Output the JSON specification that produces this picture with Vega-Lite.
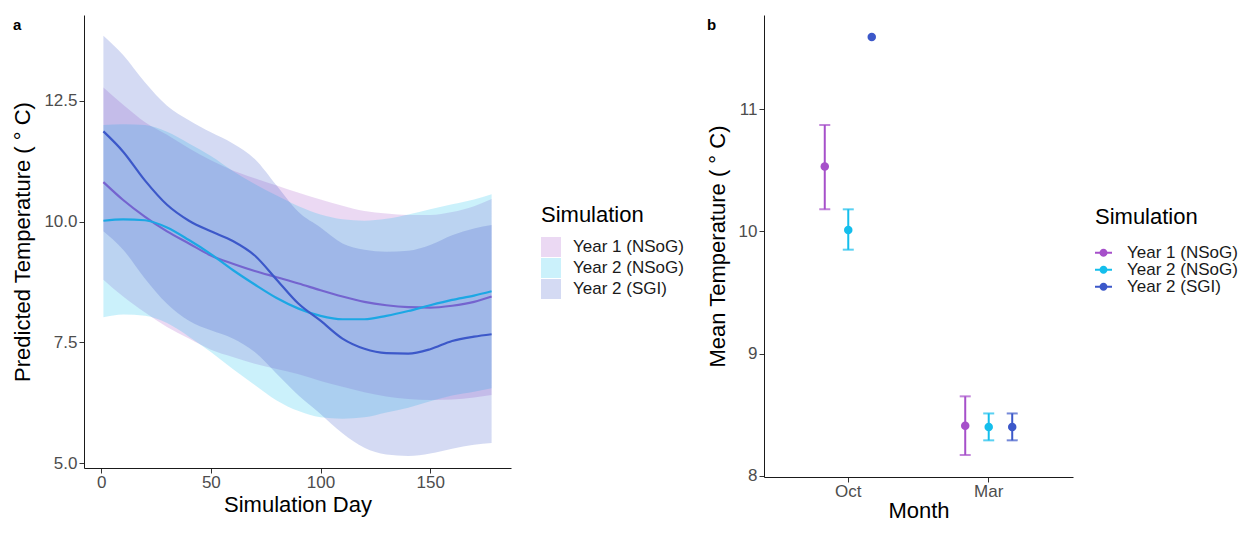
{
  "$schema": "https://vega.github.io/schema/vega-lite/v6.json",
  "padding": {"left": 11, "top": 15, "right": 0, "bottom": 0},
  "spacing": 22,
  "config": {
    "font": "Liberation Sans",
    "view": {"stroke": null},
    "axis": {"grid": false, "domainColor": "#1a1a1a", "domainWidth": 1, "tickColor": "#333333", "tickWidth": 1, "tickSize": 5, "labelColor": "#4d4d4d", "labelFontSize": 17, "labelFont": "Liberation Sans", "titleFont": "Liberation Sans", "titleFontSize": 22, "titleFontWeight": "normal", "titleColor": "#000000"},
    "axisX": {"labelPadding": 1},
    "axisY": {"labelPadding": 2, "titlePadding": 9},
    "legend": {"titleFont": "Liberation Sans", "titleFontSize": 22, "titleFontWeight": "normal", "titleColor": "#000000", "labelFont": "Liberation Sans", "labelFontSize": 17, "labelColor": "#1a1a1a", "padding": 0}
  },
  "datasets": {
    "smooth": [
      {"Simulation": "Year 1 (NSoG)", "day": 1, "fit": 10.82, "lo": 8.80, "hi": 12.78},
      {"Simulation": "Year 1 (NSoG)", "day": 10, "fit": 10.45, "lo": 8.45, "hi": 12.42},
      {"Simulation": "Year 1 (NSoG)", "day": 20, "fit": 10.10, "lo": 8.12, "hi": 12.06},
      {"Simulation": "Year 1 (NSoG)", "day": 30, "fit": 9.80, "lo": 7.82, "hi": 11.80},
      {"Simulation": "Year 1 (NSoG)", "day": 40, "fit": 9.55, "lo": 7.58, "hi": 11.52},
      {"Simulation": "Year 1 (NSoG)", "day": 50, "fit": 9.30, "lo": 7.35, "hi": 11.27},
      {"Simulation": "Year 1 (NSoG)", "day": 60, "fit": 9.13, "lo": 7.20, "hi": 11.06},
      {"Simulation": "Year 1 (NSoG)", "day": 70, "fit": 8.98, "lo": 7.06, "hi": 10.90},
      {"Simulation": "Year 1 (NSoG)", "day": 80, "fit": 8.85, "lo": 6.95, "hi": 10.75},
      {"Simulation": "Year 1 (NSoG)", "day": 90, "fit": 8.72, "lo": 6.84, "hi": 10.60},
      {"Simulation": "Year 1 (NSoG)", "day": 100, "fit": 8.58, "lo": 6.70, "hi": 10.46},
      {"Simulation": "Year 1 (NSoG)", "day": 110, "fit": 8.45, "lo": 6.58, "hi": 10.33},
      {"Simulation": "Year 1 (NSoG)", "day": 120, "fit": 8.34, "lo": 6.47, "hi": 10.22},
      {"Simulation": "Year 1 (NSoG)", "day": 130, "fit": 8.27, "lo": 6.38, "hi": 10.17},
      {"Simulation": "Year 1 (NSoG)", "day": 140, "fit": 8.23, "lo": 6.33, "hi": 10.14},
      {"Simulation": "Year 1 (NSoG)", "day": 150, "fit": 8.22, "lo": 6.31, "hi": 10.14},
      {"Simulation": "Year 1 (NSoG)", "day": 160, "fit": 8.26, "lo": 6.32, "hi": 10.20},
      {"Simulation": "Year 1 (NSoG)", "day": 170, "fit": 8.34, "lo": 6.36, "hi": 10.32},
      {"Simulation": "Year 1 (NSoG)", "day": 178, "fit": 8.45, "lo": 6.41, "hi": 10.47},
      {"Simulation": "Year 2 (NSoG)", "day": 1, "fit": 10.02, "lo": 8.02, "hi": 12.00},
      {"Simulation": "Year 2 (NSoG)", "day": 10, "fit": 10.05, "lo": 8.08, "hi": 12.02},
      {"Simulation": "Year 2 (NSoG)", "day": 20, "fit": 10.03, "lo": 8.05, "hi": 12.00},
      {"Simulation": "Year 2 (NSoG)", "day": 30, "fit": 9.88, "lo": 7.90, "hi": 11.86},
      {"Simulation": "Year 2 (NSoG)", "day": 40, "fit": 9.62, "lo": 7.62, "hi": 11.62},
      {"Simulation": "Year 2 (NSoG)", "day": 50, "fit": 9.33, "lo": 7.30, "hi": 11.36},
      {"Simulation": "Year 2 (NSoG)", "day": 60, "fit": 9.00, "lo": 6.95, "hi": 11.05},
      {"Simulation": "Year 2 (NSoG)", "day": 70, "fit": 8.70, "lo": 6.62, "hi": 10.78},
      {"Simulation": "Year 2 (NSoG)", "day": 80, "fit": 8.42, "lo": 6.30, "hi": 10.54},
      {"Simulation": "Year 2 (NSoG)", "day": 90, "fit": 8.20, "lo": 6.08, "hi": 10.32},
      {"Simulation": "Year 2 (NSoG)", "day": 100, "fit": 8.05, "lo": 5.95, "hi": 10.15},
      {"Simulation": "Year 2 (NSoG)", "day": 110, "fit": 7.98, "lo": 5.92, "hi": 10.05},
      {"Simulation": "Year 2 (NSoG)", "day": 120, "fit": 7.98, "lo": 5.95, "hi": 10.02},
      {"Simulation": "Year 2 (NSoG)", "day": 130, "fit": 8.05, "lo": 6.05, "hi": 10.06},
      {"Simulation": "Year 2 (NSoG)", "day": 140, "fit": 8.15, "lo": 6.15, "hi": 10.15},
      {"Simulation": "Year 2 (NSoG)", "day": 150, "fit": 8.27, "lo": 6.28, "hi": 10.26},
      {"Simulation": "Year 2 (NSoG)", "day": 160, "fit": 8.38, "lo": 6.40, "hi": 10.36},
      {"Simulation": "Year 2 (NSoG)", "day": 170, "fit": 8.47, "lo": 6.48, "hi": 10.46},
      {"Simulation": "Year 2 (NSoG)", "day": 178, "fit": 8.56, "lo": 6.55, "hi": 10.57},
      {"Simulation": "Year 2 (SGI)", "day": 1, "fit": 11.87, "lo": 9.80, "hi": 13.85},
      {"Simulation": "Year 2 (SGI)", "day": 10, "fit": 11.45, "lo": 9.42, "hi": 13.45},
      {"Simulation": "Year 2 (SGI)", "day": 20, "fit": 10.85, "lo": 8.82, "hi": 12.88},
      {"Simulation": "Year 2 (SGI)", "day": 30, "fit": 10.35, "lo": 8.30, "hi": 12.40},
      {"Simulation": "Year 2 (SGI)", "day": 40, "fit": 10.02, "lo": 7.95, "hi": 12.10},
      {"Simulation": "Year 2 (SGI)", "day": 50, "fit": 9.80, "lo": 7.75, "hi": 11.85},
      {"Simulation": "Year 2 (SGI)", "day": 60, "fit": 9.60, "lo": 7.58, "hi": 11.62},
      {"Simulation": "Year 2 (SGI)", "day": 70, "fit": 9.30, "lo": 7.30, "hi": 11.30},
      {"Simulation": "Year 2 (SGI)", "day": 80, "fit": 8.80, "lo": 6.85, "hi": 10.75},
      {"Simulation": "Year 2 (SGI)", "day": 90, "fit": 8.30, "lo": 6.40, "hi": 10.20},
      {"Simulation": "Year 2 (SGI)", "day": 100, "fit": 7.95, "lo": 6.02, "hi": 9.88},
      {"Simulation": "Year 2 (SGI)", "day": 110, "fit": 7.58, "lo": 5.62, "hi": 9.55},
      {"Simulation": "Year 2 (SGI)", "day": 120, "fit": 7.37, "lo": 5.32, "hi": 9.42},
      {"Simulation": "Year 2 (SGI)", "day": 130, "fit": 7.28, "lo": 5.18, "hi": 9.38},
      {"Simulation": "Year 2 (SGI)", "day": 140, "fit": 7.27, "lo": 5.15, "hi": 9.40},
      {"Simulation": "Year 2 (SGI)", "day": 150, "fit": 7.36, "lo": 5.20, "hi": 9.52},
      {"Simulation": "Year 2 (SGI)", "day": 160, "fit": 7.53, "lo": 5.30, "hi": 9.72},
      {"Simulation": "Year 2 (SGI)", "day": 170, "fit": 7.62, "lo": 5.38, "hi": 9.86},
      {"Simulation": "Year 2 (SGI)", "day": 178, "fit": 7.67, "lo": 5.42, "hi": 9.93}
    ],
    "means": [
      {"Month": "Oct", "Simulation": "Year 1 (NSoG)", "mean": 10.53, "lo": 10.18, "hi": 10.87},
      {"Month": "Oct", "Simulation": "Year 2 (NSoG)", "mean": 10.01, "lo": 9.85, "hi": 10.18},
      {"Month": "Oct", "Simulation": "Year 2 (SGI)", "mean": 11.59, "lo": null, "hi": null},
      {"Month": "Mar", "Simulation": "Year 1 (NSoG)", "mean": 8.41, "lo": 8.17, "hi": 8.65},
      {"Month": "Mar", "Simulation": "Year 2 (NSoG)", "mean": 8.40, "lo": 8.29, "hi": 8.51},
      {"Month": "Mar", "Simulation": "Year 2 (SGI)", "mean": 8.40, "lo": 8.29, "hi": 8.51}
    ]
  },
  "resolve": {
    "scale": {"fill": "independent", "color": "independent", "stroke": "independent", "x": "independent", "y": "independent"},
    "legend": {"fill": "independent", "color": "independent", "stroke": "independent"}
  },
  "hconcat": [
    {
      "width": 427,
      "height": 453,
      "title": {"text": "a", "anchor": "start", "frame": "group", "orient": "top", "offset": -18, "dx": -71, "baseline": "top", "fontSize": 15, "fontWeight": "bold", "font": "Liberation Sans", "color": "#000000"},
      "data": {"name": "smooth"},
      "layer": [
        {
          "transform": [{"filter": "datum.Simulation === 'Year 1 (NSoG)'"}],
          "mark": {"type": "area", "opacity": 0.22, "interpolate": "monotone"},
          "encoding": {
            "x": {"field": "day", "type": "quantitative", "title": "Simulation Day", "scale": {"domain": [-7.85, 186.85], "nice": false, "zero": false}, "axis": {"values": [0, 50, 100, 150], "titlePadding": 4}},
            "y": {"field": "lo", "type": "quantitative", "title": "Predicted Temperature ( ° C)", "scale": {"domain": [4.9, 14.28], "nice": false, "zero": false}, "axis": {"values": [5, 7.5, 10, 12.5], "format": ".1f"}},
            "y2": {"field": "hi"},
            "fill": {"field": "Simulation", "type": "nominal", "scale": {"domain": ["Year 1 (NSoG)", "Year 2 (NSoG)", "Year 2 (SGI)"], "range": ["#A650CA", "#14BEEC", "#3C58C9"]},
              "legend": {"orient": "none", "legendX": 457, "legendY": 190, "title": "Simulation", "symbolType": "square", "symbolSize": 400, "symbolOpacity": 0.22, "symbolStrokeWidth": 0, "titlePadding": 10, "rowPadding": 1, "labelOffset": 12}}
          }
        },
        {
          "transform": [{"filter": "datum.Simulation === 'Year 1 (NSoG)'"}],
          "mark": {"type": "line", "strokeWidth": 2.2, "interpolate": "monotone"},
          "encoding": {
            "x": {"field": "day", "type": "quantitative", "title": "Simulation Day", "scale": {"domain": [-7.85, 186.85], "nice": false, "zero": false}, "axis": {"values": [0, 50, 100, 150], "titlePadding": 4}},
            "y": {"field": "fit", "type": "quantitative", "title": "Predicted Temperature ( ° C)", "scale": {"domain": [4.9, 14.28], "nice": false, "zero": false}, "axis": {"values": [5, 7.5, 10, 12.5], "format": ".1f"}},
            "stroke": {"field": "Simulation", "type": "nominal", "scale": {"domain": ["Year 1 (NSoG)", "Year 2 (NSoG)", "Year 2 (SGI)"], "range": ["#A650CA", "#14BEEC", "#3C58C9"]}, "legend": null}
          }
        },
        {
          "transform": [{"filter": "datum.Simulation === 'Year 2 (NSoG)'"}],
          "mark": {"type": "area", "opacity": 0.22, "interpolate": "monotone"},
          "encoding": {
            "x": {"field": "day", "type": "quantitative", "title": "Simulation Day", "scale": {"domain": [-7.85, 186.85], "nice": false, "zero": false}, "axis": {"values": [0, 50, 100, 150], "titlePadding": 4}},
            "y": {"field": "lo", "type": "quantitative", "title": "Predicted Temperature ( ° C)", "scale": {"domain": [4.9, 14.28], "nice": false, "zero": false}, "axis": {"values": [5, 7.5, 10, 12.5], "format": ".1f"}},
            "y2": {"field": "hi"},
            "fill": {"field": "Simulation", "type": "nominal", "scale": {"domain": ["Year 1 (NSoG)", "Year 2 (NSoG)", "Year 2 (SGI)"], "range": ["#A650CA", "#14BEEC", "#3C58C9"]}}
          }
        },
        {
          "transform": [{"filter": "datum.Simulation === 'Year 2 (NSoG)'"}],
          "mark": {"type": "line", "strokeWidth": 2.2, "interpolate": "monotone"},
          "encoding": {
            "x": {"field": "day", "type": "quantitative", "title": "Simulation Day", "scale": {"domain": [-7.85, 186.85], "nice": false, "zero": false}, "axis": {"values": [0, 50, 100, 150], "titlePadding": 4}},
            "y": {"field": "fit", "type": "quantitative", "title": "Predicted Temperature ( ° C)", "scale": {"domain": [4.9, 14.28], "nice": false, "zero": false}, "axis": {"values": [5, 7.5, 10, 12.5], "format": ".1f"}},
            "stroke": {"field": "Simulation", "type": "nominal", "scale": {"domain": ["Year 1 (NSoG)", "Year 2 (NSoG)", "Year 2 (SGI)"], "range": ["#A650CA", "#14BEEC", "#3C58C9"]}, "legend": null}
          }
        },
        {
          "transform": [{"filter": "datum.Simulation === 'Year 2 (SGI)'"}],
          "mark": {"type": "area", "opacity": 0.22, "interpolate": "monotone"},
          "encoding": {
            "x": {"field": "day", "type": "quantitative", "title": "Simulation Day", "scale": {"domain": [-7.85, 186.85], "nice": false, "zero": false}, "axis": {"values": [0, 50, 100, 150], "titlePadding": 4}},
            "y": {"field": "lo", "type": "quantitative", "title": "Predicted Temperature ( ° C)", "scale": {"domain": [4.9, 14.28], "nice": false, "zero": false}, "axis": {"values": [5, 7.5, 10, 12.5], "format": ".1f"}},
            "y2": {"field": "hi"},
            "fill": {"field": "Simulation", "type": "nominal", "scale": {"domain": ["Year 1 (NSoG)", "Year 2 (NSoG)", "Year 2 (SGI)"], "range": ["#A650CA", "#14BEEC", "#3C58C9"]}}
          }
        },
        {
          "transform": [{"filter": "datum.Simulation === 'Year 2 (SGI)'"}],
          "mark": {"type": "line", "strokeWidth": 2.2, "interpolate": "monotone"},
          "encoding": {
            "x": {"field": "day", "type": "quantitative", "title": "Simulation Day", "scale": {"domain": [-7.85, 186.85], "nice": false, "zero": false}, "axis": {"values": [0, 50, 100, 150], "titlePadding": 4}},
            "y": {"field": "fit", "type": "quantitative", "title": "Predicted Temperature ( ° C)", "scale": {"domain": [4.9, 14.28], "nice": false, "zero": false}, "axis": {"values": [5, 7.5, 10, 12.5], "format": ".1f"}},
            "stroke": {"field": "Simulation", "type": "nominal", "scale": {"domain": ["Year 1 (NSoG)", "Year 2 (NSoG)", "Year 2 (SGI)"], "range": ["#A650CA", "#14BEEC", "#3C58C9"]}, "legend": null}
          }
        }
      ]
    },
    {
      "width": 309,
      "height": 462,
      "title": {"text": "b", "anchor": "start", "frame": "group", "orient": "top", "offset": -18, "dx": -57, "baseline": "top", "fontSize": 15, "fontWeight": "bold", "font": "Liberation Sans", "color": "#000000"},
      "data": {"name": "means"},
      "encoding": {
        "x": {"field": "Month", "type": "nominal", "sort": ["Oct", "Mar"], "title": "Month", "scale": {"type": "band", "paddingInner": 0, "paddingOuter": 0.1}, "axis": {"labelAngle": 0, "bandPosition": 0.5, "titlePadding": 1}},
        "xOffset": {"field": "Simulation", "type": "nominal", "scale": {"domain": ["Year 1 (NSoG)", "Year 2 (NSoG)", "Year 2 (SGI)"], "range": [34.97, 105.47], "paddingInner": 0, "paddingOuter": 0}},
        "color": {"field": "Simulation", "type": "nominal", "scale": {"domain": ["Year 1 (NSoG)", "Year 2 (NSoG)", "Year 2 (SGI)"], "range": ["#A650CA", "#14BEEC", "#3C58C9"]},
          "legend": {"orient": "none", "legendX": 331, "legendY": 191.7, "title": "Simulation", "symbolType": "M-1,-0.12L-0.42,-0.12L-0.42,0.12L-1,0.12Z M0.42,-0.12L1,-0.12L1,0.12L0.42,0.12Z M0.47,0A0.47,0.47,0,1,1,-0.47,0A0.47,0.47,0,1,1,0.47,0Z", "symbolSize": 289, "symbolStrokeWidth": 0, "symbolOpacity": 1, "titlePadding": 15.5, "rowPadding": -4.5, "labelOffset": 15}}
      },
      "layer": [
        {
          "transform": [{"filter": "datum.lo != null"}],
          "mark": {"type": "bar", "size": 2},
          "encoding": {
            "y": {"field": "lo", "type": "quantitative", "title": "Mean Temperature ( ° C)", "scale": {"domain": [7.99, 11.77], "nice": false, "zero": false}, "axis": {"values": [8, 9, 10, 11], "format": "d"}},
            "y2": {"field": "hi"}
          }
        },
        {
          "transform": [{"filter": "datum.lo != null"}],
          "mark": {"type": "tick", "thickness": 2, "size": 11},
          "encoding": {
            "y": {"field": "lo", "type": "quantitative", "title": "Mean Temperature ( ° C)", "scale": {"domain": [7.99, 11.77], "nice": false, "zero": false}, "axis": {"values": [8, 9, 10, 11], "format": "d"}}
          }
        },
        {
          "transform": [{"filter": "datum.hi != null"}],
          "mark": {"type": "tick", "thickness": 2, "size": 11},
          "encoding": {
            "y": {"field": "hi", "type": "quantitative", "title": "Mean Temperature ( ° C)", "scale": {"domain": [7.99, 11.77], "nice": false, "zero": false}, "axis": {"values": [8, 9, 10, 11], "format": "d"}}
          }
        },
        {
          "mark": {"type": "circle", "size": 72, "opacity": 1},
          "encoding": {
            "y": {"field": "mean", "type": "quantitative", "title": "Mean Temperature ( ° C)", "scale": {"domain": [7.99, 11.77], "nice": false, "zero": false}, "axis": {"values": [8, 9, 10, 11], "format": "d"}}
          }
        }
      ]
    }
  ]
}
